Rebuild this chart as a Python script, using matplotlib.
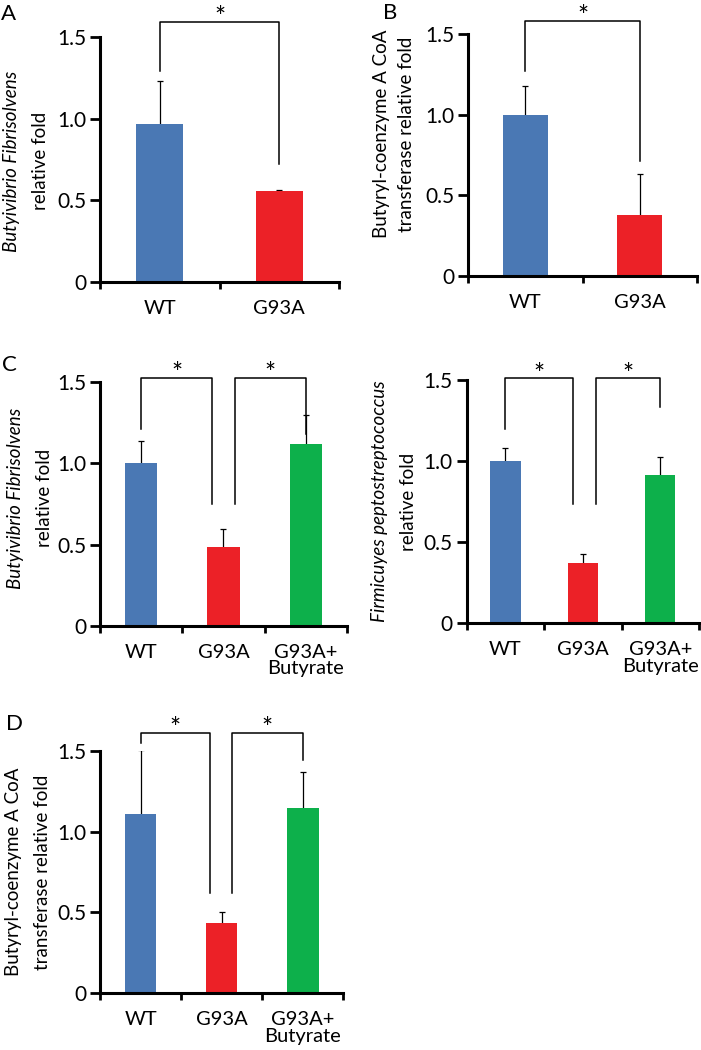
"""
Bar charts of relative fold for WT, G93A and G93A+Butyrate groups (panels A-D).
"""

import matplotlib.pyplot as plt
from matplotlib.ticker import FixedLocator, NullFormatter

plt.rcParams['font.family'] = ['Lato', 'DejaVu Sans']

W, H = 701, 1050

BLUE = '#4a78b4'
RED = '#ec2127'
GREEN = '#0db04b'

# group labels
two_groups = ['WT', 'G93A']
three_groups = ['WT', 'G93A', 'G93A+\nButyrate']

# panel A: Butyivibrio Fibrisolvens
a_values = [0.97, 0.557]
a_errors = [0.26, 0.005]

# panel B: Butyryl-coenzyme A CoA transferase
b_values = [1.0, 0.38]
b_errors = [0.18, 0.253]

# panel C left: Butyivibrio Fibrisolvens with butyrate
c1_values = [1.0, 0.487, 1.12]
c1_errors = [0.14, 0.11, 0.18]

# panel C right: Firmicuyes peptostreptococcus
c2_values = [1.0, 0.374, 0.914]
c2_errors = [0.083, 0.051, 0.109]

# panel D: Butyryl-coenzyme A CoA transferase with butyrate
d_values = [1.109, 0.433, 1.144]
d_errors = [0.396, 0.072, 0.226]

# significance brackets: (x left, x right, top, left leg end, right leg end)
a_brackets = [(0, 1, 1.594, 1.29, 0.72)]
b_brackets = [(0, 1, 1.583, 1.27, 0.714)]
c1_brackets = [(0, 0.86, 1.525, 1.21, 0.75), (1.14, 2, 1.525, 0.75, 1.18)]
c2_brackets = [(0, 0.87, 1.51, 1.196, 0.736), (1.17, 2, 1.51, 0.736, 1.335)]
d_brackets = [(0, 0.855, 1.61, 1.55, 0.622), (1.125, 2, 1.61, 0.622, 1.443)]


def fig_xy(x_px, y_px):
    """Convert pixel position (from top-left) to figure fraction."""
    return x_px / W, 1 - y_px / H


def draw_panel(fig, box, groups, values, errors, brackets, letter, letter_xy,
               ylabel_lines, ylabel_y=None):
    left, right, top, bottom = box
    ax = fig.add_axes([left / W, 1 - bottom / H, (right - left) / W, (bottom - top) / H])
    n = len(groups)
    xs = list(range(n))
    colors = [BLUE, RED, GREEN][:n]

    # error bars behind the bars, so only the upper half shows
    ax.errorbar(xs, values, yerr=errors, fmt='none', ecolor='black',
                elinewidth=0.9, capsize=2.5, capthick=0.9, zorder=1)
    ax.bar(xs, values, width=0.39, color=colors, zorder=2)

    ax.set_xlim(-0.5, n - 0.5)
    ax.set_ylim(0, 1.5)
    ax.set_yticks([0, 0.5, 1.0, 1.5])
    ax.set_yticklabels(['0', '0.5', '1.0', '1.5'])

    ax.xaxis.set_major_locator(FixedLocator([i - 0.5 for i in range(n + 1)]))
    ax.xaxis.set_major_formatter(NullFormatter())
    ax.xaxis.set_minor_locator(FixedLocator(xs))
    ax.set_xticklabels(groups, minor=True, fontsize=14.5, linespacing=0.95)

    ax.tick_params(axis='y', direction='out', length=7, width=2, pad=3, labelsize=15)
    ax.tick_params(axis='x', which='major', direction='out', length=5, width=2)
    ax.tick_params(axis='x', which='minor', length=0, pad=13)

    for side in ['top', 'right']:
        ax.spines[side].set_visible(False)
    for side in ['left', 'bottom']:
        ax.spines[side].set_linewidth(2.2)

    # significance brackets with stars
    for xl, xr, ytop, yl, yr in brackets:
        ax.plot([xl, xl, xr, xr], [yl, ytop, ytop, yr], color='black',
                linewidth=1.1, clip_on=False, zorder=3)
        ax.annotate('*', xy=((xl + xr) / 2, ytop), xytext=(0, -3),
                    textcoords='offset points', ha='center', va='baseline',
                    fontsize=19, annotation_clip=False)

    # panel letter
    if letter:
        fx, fy = fig_xy(*letter_xy)
        fig.text(fx, fy, letter, fontsize=16, ha='left', va='center')

    # y labels (one text per line so styles can differ)
    ymid = (top + bottom) / 2 if ylabel_y is None else ylabel_y
    for text, x_px, italic in ylabel_lines:
        fx, fy = fig_xy(x_px, ymid)
        fig.text(fx, fy, text, rotation=90, ha='center', va='center',
                 fontsize=13.5, style='italic' if italic else 'normal')
    return ax


def plot():
    fig = plt.figure(figsize=(W / 100, H / 100), dpi=100)

    draw_panel(fig, (100, 339, 37, 282), two_groups, a_values, a_errors, a_brackets,
               'A', (1, 14),
               [('Butyivibrio Fibrisolvens', 12, True), ('relative fold', 41, False)], 161)
    draw_panel(fig, (468, 697, 34.3, 276), two_groups, b_values, b_errors, b_brackets,
               'B', (383, 13),
               [('Butyryl-coenzyme A CoA', 381, False), ('transferase relative fold', 407, False)], 134)
    draw_panel(fig, (100, 347, 382.3, 625.7), three_groups, c1_values, c1_errors, c1_brackets,
               'C', (2, 365),
               [('Butyivibrio Fibrisolvens', 16, True), ('relative fold', 45, False)], 498)
    draw_panel(fig, (466.7, 699, 380, 623.3), three_groups, c2_values, c2_errors, c2_brackets,
               '', (0, 0),
               [('Firmicuyes peptostreptococcus', 380, True), ('relative fold', 408, False)])
    draw_panel(fig, (100, 343.3, 750.7, 993.3), three_groups, d_values, d_errors, d_brackets,
               'D', (6, 724),
               [('Butyryl-coenzyme A CoA', 14, False), ('transferase relative fold', 43, False)])

    fig.savefig('out.png', dpi=100)


plot()
